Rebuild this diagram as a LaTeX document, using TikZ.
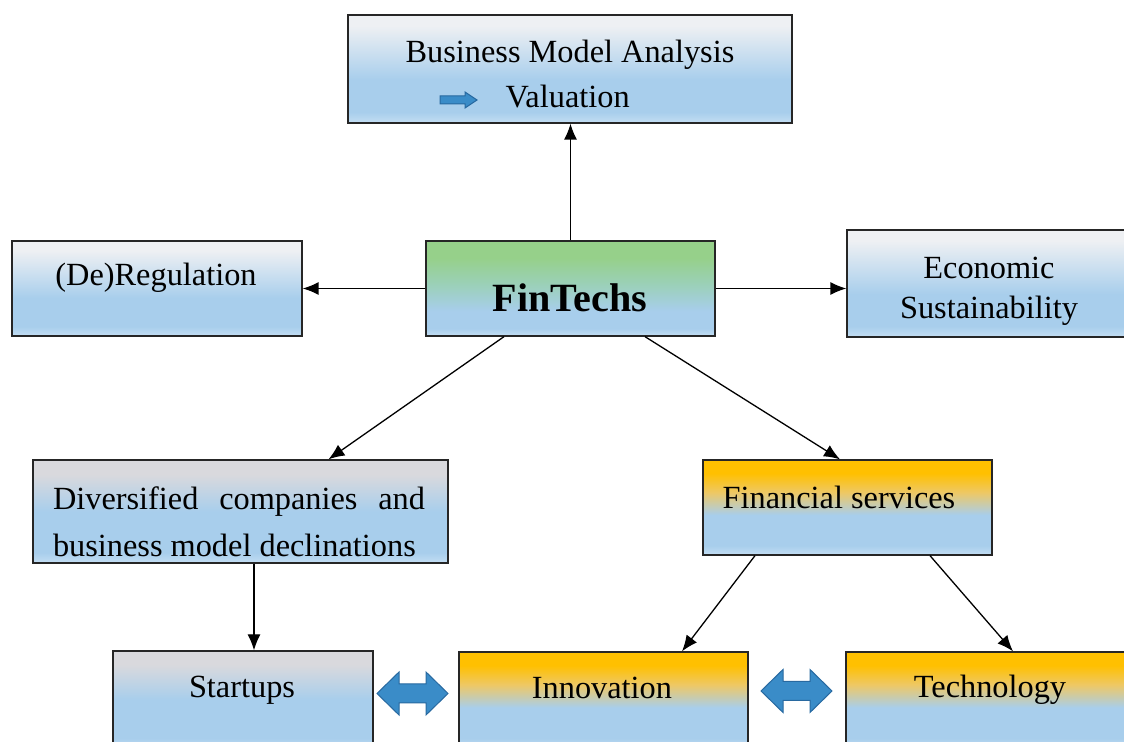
\documentclass[tikz,border=0pt]{standalone}
\usepackage{fontspec}
\setmainfont{Liberation Serif}
\usetikzlibrary{arrows.meta}

\definecolor{skyb}{RGB}{168,206,236}
\definecolor{skyl}{RGB}{196,222,243}
\definecolor{paleg}{RGB}{238,240,243}
\definecolor{greyt}{RGB}{217,217,221}
\definecolor{greent}{RGB}{150,208,138}
\definecolor{teal}{RGB}{155,208,185}
\definecolor{orng}{RGB}{255,192,0}
\definecolor{orngm}{RGB}{238,200,100}
\definecolor{arrfill}{RGB}{58,140,200}
\definecolor{arredge}{RGB}{40,105,160}

% vertical shadings (bottom to top, box spans 25bp..75bp)
\pgfdeclareverticalshading{whitesh}{100bp}{color(0bp)=(skyl); color(25bp)=(skyl); color(30bp)=(skyb); color(45bp)=(skyb); color(70bp)=(paleg); color(100bp)=(paleg)}
\pgfdeclareverticalshading{greysh}{100bp}{color(0bp)=(skyl); color(25bp)=(skyl); color(30bp)=(skyb); color(50bp)=(skyb); color(68bp)=(greyt); color(100bp)=(greyt)}
\pgfdeclareverticalshading{greensh}{100bp}{color(0bp)=(skyl); color(25bp)=(skyl); color(29bp)=(skyb); color(38bp)=(skyb); color(52bp)=(teal); color(66bp)=(greent); color(100bp)=(greent)}
\pgfdeclareverticalshading{orangesh}{100bp}{color(0bp)=(skyl); color(25bp)=(skyl); color(30bp)=(skyb); color(46bp)=(skyb); color(58bp)=(orngm); color(68bp)=(orng); color(100bp)=(orng)}

\tikzset{
  box/.style={draw=black!85, line width=0.13mm, shade, shading=#1, inner sep=0pt},
  txt/.style={inner sep=0pt, font=\fontsize{9.2}{12}\selectfont},
  link/.style={line width=0.13mm, -{Latex[length=1.6mm, width=1.3mm]}},
  blockarrow/.style={fill=arrfill, draw=arredge, line width=0.1mm}
}

\begin{document}
\begin{tikzpicture}[x=0.1mm, y=-0.1mm]
\useasboundingbox (0,0) rectangle (1124,742);
\clip (0,0) rectangle (1124,742);

% boxes
\node[box=whitesh, minimum width=44.4mm, minimum height=10.8mm] (bma) at (570,69) {};
\node[box=whitesh, minimum width=29mm, minimum height=9.5mm] (reg) at (157,288.5) {};
\node[box=greensh, minimum width=28.9mm, minimum height=9.5mm] (fin) at (570.5,288.5) {};
\node[box=whitesh, minimum width=28.7mm, minimum height=10.7mm] (eco) at (990.5,283.5) {};
\node[box=greysh, minimum width=41.5mm, minimum height=10.3mm] (div) at (240.5,511.5) {};
\node[box=orangesh, minimum width=28.9mm, minimum height=9.5mm] (fs) at (847.5,507.5) {};
\node[box=greysh, minimum width=26mm, minimum height=9.7mm] (st) at (243,699.5) {};
\node[box=orangesh, minimum width=28.9mm, minimum height=9.6mm] (inn) at (603.5,700) {};
\node[box=orangesh, minimum width=28.8mm, minimum height=9.6mm] (tech) at (990,700) {};

% texts
\node[txt] (bmatxt) at (570,55) {Business Model Analysis};
\node[txt, anchor=west] (valtxt) at (505,97) {Valuation};
\node[txt] (regtxt) at (156,278) {(De)Regulation};
\node[txt, font=\fontsize{11.4}{13}\selectfont\bfseries] (fintxt) at (570,298) {FinTechs};
\node[txt, align=center, font=\fontsize{9.2}{11.4}\selectfont] (ecotxt) at (989,291) {Economic\\Sustainability};
\node[txt, text width=37.2mm, align=justify, font=\fontsize{9.2}{13.4}\selectfont] (divtxt) at (239,522) {Diversified companies and\linebreak business model declinations};
\node[txt] (fstxt) at (839,497) {Financial services};
\node[txt] (sttxt) at (242,690) {Startups};
\node[txt] (inntxt) at (602,688) {Innovation};
\node[txt] (techtxt) at (990,690) {Technology};

% block arrows
\filldraw[blockarrow] ([xshift=-6.5mm, yshift=-0.3mm]valtxt.west) ++(0,-4) -- ++(25,0) -- ++(0,-4) -- ++(12,8) -- ++(-12,8) -- ++(0,-4) -- ++(-25,0) -- cycle;
\foreach \cx/\cy in {412.5/693.5, 796.5/691}
  \filldraw[blockarrow] (\cx,\cy) ++(-35.5,0) -- ++(22,-21.5) -- ++(0,12) -- ++(27,0) -- ++(0,-12) -- ++(22,21.5) -- ++(-22,21.5) -- ++(0,-12) -- ++(-27,0) -- ++(0,12) -- cycle;

% connectors
\draw[link] (fin.north) -- (fin.north |- bma.south);
\draw[link] (fin.west) -- (reg.east);
\draw[link] (fin.east) -- (fin.east -| eco.west);
\draw[link] ([xshift=-6.65mm]fin.south) -- ([xshift=8.8mm]div.north);
\draw[link] ([xshift=7.45mm]fin.south) -- ([xshift=-0.75mm]fs.north);
\draw[link] ([xshift=1.35mm]div.south) -- ([xshift=1.35mm]div.south |- st.north);
\draw[link] ([xshift=-9.25mm]fs.south) -- ([xshift=7.85mm]inn.north);
\draw[link] ([xshift=8.25mm]fs.south) -- ([xshift=2.3mm]tech.north);

\end{tikzpicture}
\end{document}
